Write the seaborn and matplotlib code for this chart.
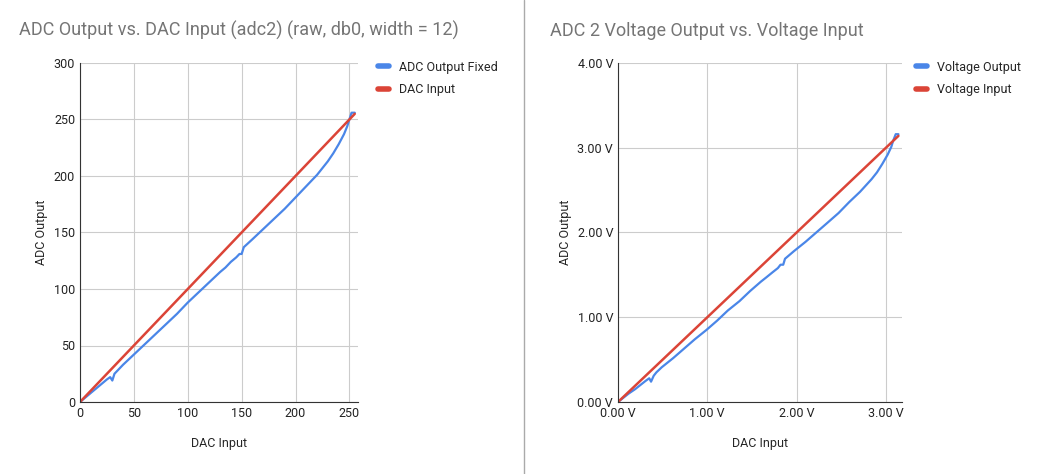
import matplotlib.pyplot as plt
import seaborn as sns
from matplotlib.lines import Line2D

# left panel data (raw counts)
dac_in = [0, 5, 10, 15, 20, 25, 28, 30, 32, 35, 40, 50, 60, 70, 80, 90, 100, 110, 120,
          130, 135, 140, 145, 148, 150, 152, 160, 170, 180, 190, 200, 210, 220, 230,
          235, 240, 245, 248, 250, 252, 255]
adc_out = [0, 4, 8, 12, 16, 20, 22, 19, 25, 28, 33, 42, 51, 60, 69, 78, 88, 97, 106,
           115, 119, 124, 128, 131, 131, 137, 144, 153, 162, 171, 181, 191, 201, 213,
           220, 228, 237, 244, 250, 256, 256]

# right panel data (volts)
v_in = [0.0, 0.06, 0.12, 0.19, 0.25, 0.31, 0.35, 0.37, 0.40, 0.43, 0.49, 0.62, 0.74,
        0.86, 0.99, 1.11, 1.23, 1.36, 1.48, 1.60, 1.66, 1.73, 1.79, 1.82, 1.85, 1.87,
        1.97, 2.10, 2.22, 2.34, 2.47, 2.59, 2.71, 2.84, 2.90, 2.96, 3.02, 3.06, 3.08,
        3.11, 3.14]
v_out = [0.0, 0.05, 0.10, 0.15, 0.20, 0.25, 0.28, 0.24, 0.31, 0.35, 0.41, 0.52, 0.63,
         0.74, 0.85, 0.96, 1.08, 1.19, 1.31, 1.42, 1.47, 1.53, 1.58, 1.62, 1.62, 1.69,
         1.78, 1.89, 2.00, 2.11, 2.23, 2.36, 2.48, 2.63, 2.71, 2.81, 2.92, 3.01, 3.08,
         3.16, 3.16]

blue = '#4a86e8'
red = '#db4437'

sns.set_style("whitegrid")
plt.rcParams['font.family'] = ['Roboto', 'DejaVu Sans']

fig = plt.figure(figsize=(10.48, 4.74), dpi=100)
ax1 = fig.add_axes([80/1048, 72/474, 278/1048, 339/474])
ax2 = fig.add_axes([618/1048, 72/474, 284/1048, 339/474])
fig.add_artist(Line2D([524/1048, 524/1048], [0, 1], color='#aaaaaa', lw=1))

def style(ax):
    ax.grid(True, color='#cccccc', lw=0.8)
    for s in ['top', 'right']:
        ax.spines[s].set_visible(False)
    ax.spines['left'].set_color('#333333')
    ax.spines['bottom'].set_color('#333333')
    ax.tick_params(labelsize=9, colors='#222222', length=0)
    ax.set_xlabel('DAC Input', fontsize=9, labelpad=12)
    ax.set_ylabel('ADC Output', fontsize=9)

sns.lineplot(x=dac_in, y=adc_out, ax=ax1, color=blue, lw=1.6, label='ADC Output Fixed')
sns.lineplot(x=dac_in, y=dac_in, ax=ax1, color=red, lw=1.8, label='DAC Input')
ax1.set_xlim(0, 258)
ax1.set_ylim(0, 300)
ax1.set_xticks([0, 50, 100, 150, 200, 250])
ax1.set_yticks(range(0, 301, 50))
style(ax1)
ax1.set_title('ADC Output vs. DAC Input (adc2) (raw, db0, width = 12)', loc='left',
              x=-0.22, y=1.055, fontsize=13, color='#757575')

sns.lineplot(x=v_in, y=v_out, ax=ax2, color=blue, lw=1.6, label='Voltage Output')
sns.lineplot(x=v_in, y=v_in, ax=ax2, color=red, lw=1.8, label='Voltage Input')
ax2.set_xlim(0, 3.18)
ax2.set_ylim(0, 4)
ax2.set_xticks([0, 1, 2, 3])
ax2.set_xticklabels(['0.00 V', '1.00 V', '2.00 V', '3.00 V'])
ax2.set_yticks([0, 1, 2, 3, 4])
ax2.set_yticklabels(['0.00 V', '1.00 V', '2.00 V', '3.00 V', '4.00 V'])
style(ax2)
ax2.set_title('ADC 2 Voltage Output vs. Voltage Input', loc='left', x=-0.24, y=1.055,
              fontsize=13, color='#757575')

for ax, dx in [(ax1, 1.03), (ax2, 1.01)]:
    leg = ax.legend(loc='upper left', bbox_to_anchor=(dx, 1.04), frameon=False,
                    fontsize=9, handlelength=0.9, labelspacing=0.75)
    for h in leg.get_lines():
        h.set_linewidth(4)

fig.savefig('out.png', dpi=100)
